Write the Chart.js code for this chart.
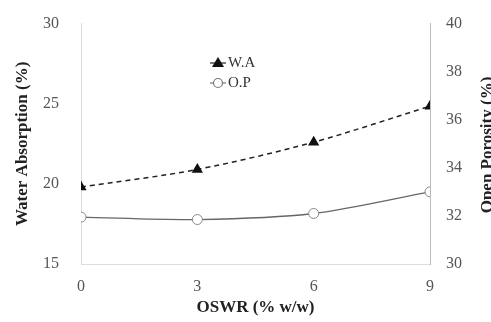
<!DOCTYPE html>
<html>
<head>
<meta charset="utf-8">
<script src="https://cdn.jsdelivr.net/npm/chart.js@4.4.1/dist/chart.umd.min.js"></script>
<style>
  html, body { margin: 0; padding: 0; background: #fff; }
  #wrap { width: 491px; height: 322px; position: relative; }
</style>
</head>
<body>
<div id="wrap"><canvas id="grafico"></canvas></div>
<script>
// OSWR dosage (% w/w)
const oswr = [0, 3, 6, 9];
// water absorption (%) - left axis
const absorcao = [19.8, 20.9, 22.6, 24.85];
// open porosity (%) - right axis
const porosidade = [31.95, 31.85, 32.1, 33.0];

const fonteSerif = '"Liberation Serif", "DejaVu Serif", serif';

// legenda desenhada dentro da area do grafico
const legendaInterna = {
  id: 'legendaInterna',
  afterDraw(chart) {
    const c = chart.ctx;
    c.save();
    c.font = '15px ' + fonteSerif;
    c.textBaseline = 'middle';

    // W.A
    c.strokeStyle = '#222';
    c.lineWidth = 1.2;
    c.beginPath(); c.moveTo(210, 63); c.lineTo(226, 63); c.stroke();
    c.fillStyle = '#111';
    c.beginPath(); c.moveTo(218, 57); c.lineTo(224, 67); c.lineTo(212, 67); c.closePath(); c.fill();
    c.fillStyle = '#333';
    c.fillText('W.A', 228, 63);

    // O.P
    c.strokeStyle = '#777';
    c.beginPath(); c.moveTo(210, 83); c.lineTo(226, 83); c.stroke();
    c.fillStyle = '#fff';
    c.beginPath(); c.arc(218, 83, 4.5, 0, Math.PI * 2); c.fill(); c.stroke();
    c.fillStyle = '#333';
    c.fillText('O.P', 228, 83);

    // titulo do eixo direito, lido de baixo para cima
    c.font = 'bold 17px ' + fonteSerif;
    c.fillStyle = '#222';
    c.textAlign = 'center';
    c.translate(488, 145);
    c.rotate(-Math.PI / 2);
    c.fillText('Open Porosity (%)', 0, 0);
    c.restore();
  }
};

new Chart(document.getElementById('grafico'), {
  type: 'line',
  data: {
    labels: oswr,
    datasets: [{
      label: 'W.A',
      data: absorcao,
      yAxisID: 'y',
      borderColor: '#222',
      borderWidth: 1.5,
      borderDash: [5, 4],
      pointStyle: 'triangle',
      pointRadius: 5,
      pointBackgroundColor: '#111',
      pointBorderColor: '#111',
      tension: 0.3
    }, {
      label: 'O.P',
      data: porosidade,
      yAxisID: 'y1',
      borderColor: '#666',
      borderWidth: 1.3,
      pointStyle: 'circle',
      pointRadius: 5,
      pointBackgroundColor: '#fff',
      pointBorderColor: '#888',
      pointBorderWidth: 1,
      tension: 0.3
    }]
  },
  options: {
    responsive: true,
    maintainAspectRatio: false,
    animation: false,
    layout: { padding: { top: 17, left: 0, right: 0, bottom: 0 } },
    plugins: {
      legend: { display: false },
      tooltip: { enabled: false }
    },
    scales: {
      x: {
        type: 'linear',
        min: 0,
        max: 9,
        afterBuildTicks(axis) { axis.ticks = oswr.map(v => ({ value: v })); },
        afterFit(axis) { axis.height = 58; },
        grid: { display: false },
        border: { color: '#ddd' },
        ticks: { color: '#555', font: { family: fonteSerif, size: 16 }, padding: 5 },
        title: {
          display: true,
          text: 'OSWR (% w/w)',
          color: '#222',
          font: { family: fonteSerif, size: 17, weight: 'bold' },
          padding: { top: 0 }
        }
      },
      y: {
        position: 'left',
        min: 15,
        max: 30,
        afterFit(axis) { axis.width = 81; },
        grid: { display: false },
        border: { color: '#ddd' },
        ticks: { stepSize: 5, color: '#555', font: { family: fonteSerif, size: 16 }, padding: 14 },
        title: {
          display: true,
          text: 'Water Absorption (%)',
          color: '#222',
          font: { family: fonteSerif, size: 17, weight: 'bold' },
          padding: { top: 12, bottom: 4 }
        }
      },
      y1: {
        position: 'right',
        min: 30,
        max: 40,
        afterFit(axis) { axis.width = 61; },
        grid: { display: false },
        border: { color: '#bbb' },
        ticks: { stepSize: 2, color: '#555', font: { family: fonteSerif, size: 16 }, padding: 8 }
      }
    }
  },
  plugins: [legendaInterna]
});
</script>
</body>
</html>
